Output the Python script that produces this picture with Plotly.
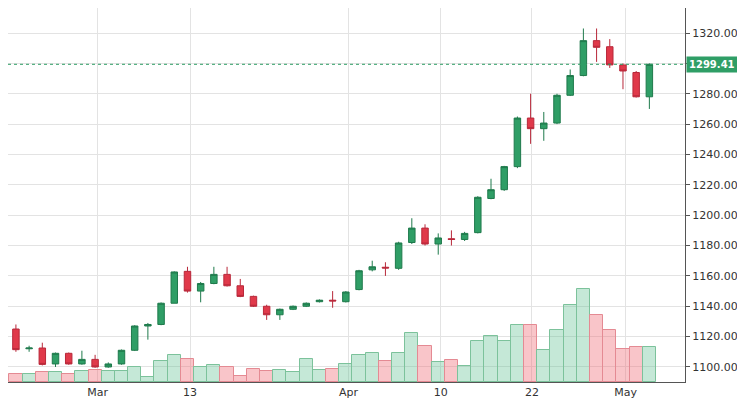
import plotly.graph_objects as go

# daily candles (index = trading slot)
opens = [1125, 1112, 1112.5, 1102, 1109, 1102, 1105, 1100, 1102, 1111,
         1127, 1128, 1142, 1163, 1150, 1155, 1161, 1153.5, 1146.5, 1140,
         1134.4, 1138, 1140, 1143, 1144, 1143, 1151, 1164, 1165.7, 1165,
         1182, 1191.5, 1181, 1184.5, 1184, 1188.5, 1211, 1216.8, 1232, 1264,
         1257, 1260.7, 1279, 1292, 1315, 1311, 1299, 1294, 1278]
closes = [1111.4, 1112.5, 1101.7, 1109, 1102, 1105, 1100, 1102, 1111, 1127,
          1128, 1142, 1162.6, 1150, 1155, 1161, 1153.5, 1146.5, 1140, 1134.4,
          1138, 1140, 1142, 1144, 1143.5, 1149.4, 1163.4, 1166, 1165.2, 1181.7,
          1191.5, 1181, 1185, 1184, 1188, 1211.8, 1216.8, 1232, 1264, 1257,
          1260.7, 1279, 1292, 1315, 1310.6, 1299, 1295, 1278, 1299.41]
highs = [1128, 1114, 1116, 1109.5, 1109.5, 1110.7, 1108, 1103, 1111.5, 1127.5,
         1129, 1142.5, 1163, 1166, 1156, 1166, 1166, 1158, 1147, 1141,
         1138.5, 1140.5, 1142.5, 1144.5, 1150, 1150, 1164, 1170, 1169, 1182.5,
         1198, 1194, 1188, 1190, 1189, 1212.5, 1224, 1232.5, 1265, 1280,
         1268, 1280, 1296, 1323, 1323, 1316, 1300, 1295, 1300]
lows = [1110, 1110, 1101, 1100, 1101.5, 1101.5, 1099.5, 1099.5, 1101.5, 1110.5,
        1118, 1127.5, 1142, 1149, 1142.6, 1154.5, 1153, 1146, 1139.5, 1131,
        1131, 1137.5, 1139.5, 1142.5, 1139, 1142.5, 1150.5, 1163, 1160, 1164,
        1181, 1180, 1174, 1180, 1183, 1188, 1210.5, 1216, 1231, 1247,
        1249, 1260, 1278.5, 1291.5, 1301, 1297, 1283, 1277.5, 1270]
volumes = [7.7, 8.3, 10, 9.7, 7.7, 10.7, 11.7, 10.7, 10.7, 15,
           4.7, 20.7, 27.3, 22.7, 14.7, 16.7, 15, 6.3, 13, 10.7,
           11.7, 9.7, 23.3, 11.7, 13, 17.7, 26.7, 29, 21, 29.3,
           49.3, 35.7, 20, 21.7, 15.7, 41.3, 45.7, 41.3, 57.3, 57.3,
           31.7, 52.3, 77, 93.3, 66.7, 51.7, 32.7, 35.3, 35.3]
tick_pos = [6.2, 13.2, 25.2, 32.2, 39.1, 46.2]
tick_text = ["Mar", "13", "Apr", "10", "22", "May"]
last_price = 1299.41

GREEN = "#2f9e66"
RED = "#e0394a"

x = list(range(len(opens)))
up = [c >= o for o, c in zip(opens, closes)]

fig = go.Figure()
fig.add_trace(go.Bar(
    x=x, y=volumes, yaxis="y2", width=1.0,
    marker=dict(color=["rgba(90,190,140,0.35)" if u else "rgba(240,110,120,0.4)" for u in up],
                line=dict(color=["#7cc29b" if u else "#e48a93" for u in up], width=1)),
    hoverinfo="skip",
))
fig.add_trace(go.Candlestick(
    x=x, open=opens, high=highs, low=lows, close=closes,
    increasing=dict(line=dict(color="#1f7a4c", width=1), fillcolor=GREEN),
    decreasing=dict(line=dict(color="#b8283a", width=1), fillcolor=RED),
    whiskerwidth=0,
))
fig.add_hline(y=last_price, line=dict(color=GREEN, width=1, dash="dot"))
fig.add_annotation(x=1, xref="paper", xanchor="left", y=last_price, yref="y",
                   text="<b>%.2f</b>" % last_price, showarrow=False,
                   bgcolor=GREEN, font=dict(color="white", size=10),
                   borderpad=2, xshift=1)

fig.update_layout(
    width=745, height=400,
    margin=dict(l=0, r=68, t=0, b=26),
    plot_bgcolor="white", paper_bgcolor="white",
    showlegend=False,
    font=dict(family="DejaVu Sans", size=11, color="#333"),
    bargap=0,
    xaxis=dict(range=[-0.6, 50.7], tickvals=tick_pos, ticktext=tick_text,
               showgrid=True, gridcolor="#e3e3e3", rangeslider=dict(visible=False),
               showline=True, linecolor="#555", ticks="", zeroline=False),
    yaxis=dict(side="right", range=[1090.1, 1336.5], tickvals=list(range(1100, 1321, 20)),
               tickformat=".2f", showgrid=True, gridcolor="#e3e3e3",
               showline=True, linecolor="#555", ticks="outside", ticklen=4,
               tickcolor="#555", zeroline=False),
    yaxis2=dict(overlaying="y", range=[0, 374], visible=False),
)

fig.write_html("out.html")
